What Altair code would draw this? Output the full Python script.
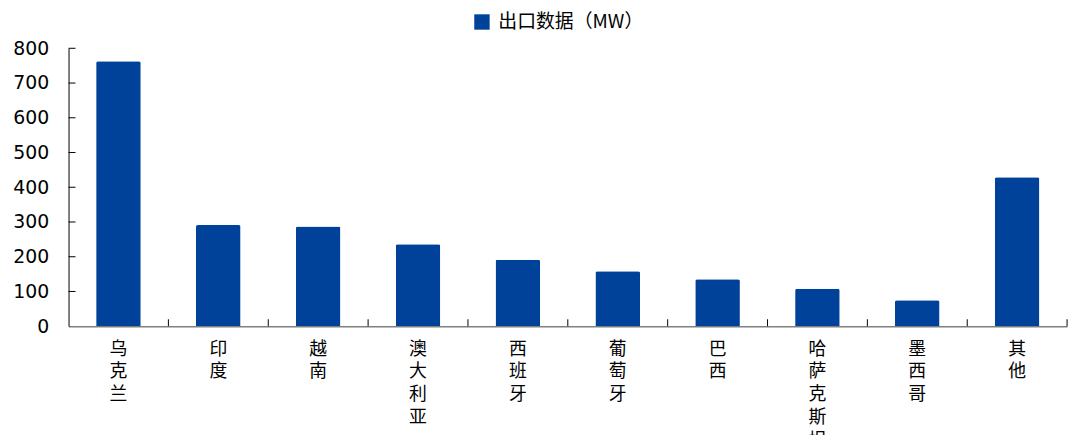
import altair as alt
import pandas as pd

categories = ["乌克兰", "印度", "越南", "澳大利亚", "西班牙", "葡萄牙", "巴西", "哈萨克斯坦", "墨西哥", "其他"]
values = [763, 291, 287, 236, 191, 158, 135, 108, 75, 429]
series_name = "出口数据（MW）"
y_ticks = [0, 100, 200, 300, 400, 500, 600, 700, 800]

df = pd.DataFrame({"cat": categories, "v": values, "series": [series_name] * len(categories)})
tick_df = pd.DataFrame({"v": y_ticks[1:]})

W, H = 1006, 280
BAR = "#00419A"

xscale = alt.Scale(domain=categories, paddingInner=0, paddingOuter=0)
yscale = alt.Scale(domain=[0, 800], nice=False)

xaxis = alt.Axis(labelAngle=0, labelExpr="split(datum.label, '')", labelBaseline="top",
                 labelLineHeight=23, labelPadding=14, ticks=False, domainColor="#808080",
                 domainWidth=1.5, labelFont="Noto Sans CJK SC", labelFontSize=18,
                 labelColor="#000000", labelOverlap=False, labelBound=False)
yaxis = alt.Axis(values=y_ticks, ticks=False, grid=False, domainColor="#000000",
                 labelFont="DejaVu Sans", labelFontSize=19, labelColor="#000000",
                 labelPadding=20, labelOverlap=False, labelFlush=False)

bars = alt.Chart(df).mark_bar(size=45, cornerRadiusTopLeft=2, cornerRadiusTopRight=2).encode(
    x=alt.X("cat:N", sort=categories, scale=xscale, title=None, axis=xaxis),
    y=alt.Y("v:Q", scale=yscale, title=None, axis=yaxis),
    color=alt.Color("series:N", scale=alt.Scale(range=[BAR]), title=None,
                    legend=alt.Legend(orient="none", legendX=407, legendY=-36, symbolType="square",
                                      symbolSize=240, symbolStrokeWidth=0, labelFont="Noto Sans CJK SC",
                                      labelFontSize=19, labelColor="#000000", labelOffset=7,
                                      labelLimit=400)),
)

xticks = alt.Chart(df).mark_rule(color="#000000", strokeWidth=1).encode(
    x=alt.X("cat:N", sort=categories, scale=xscale, bandPosition=1, axis=xaxis, title=None),
    y=alt.value(H - 7), y2=alt.value(H),
)

yticks = alt.Chart(tick_df).mark_rule(color="#000000", strokeWidth=1).encode(
    y=alt.Y("v:Q", scale=yscale, axis=yaxis, title=None),
    x=alt.value(0), x2=alt.value(7),
)

chart = alt.layer(bars, xticks, yticks).properties(
    width=W, height=H,
    autosize=alt.AutoSizeParams(type="none"),
    padding={"left": 61, "top": 39, "right": 10, "bottom": 108},
).configure_view(stroke=None).configure_axis(labelOverlap=False)

chart.save("out.html", embed_options={"renderer": "svg", "actions": False})
